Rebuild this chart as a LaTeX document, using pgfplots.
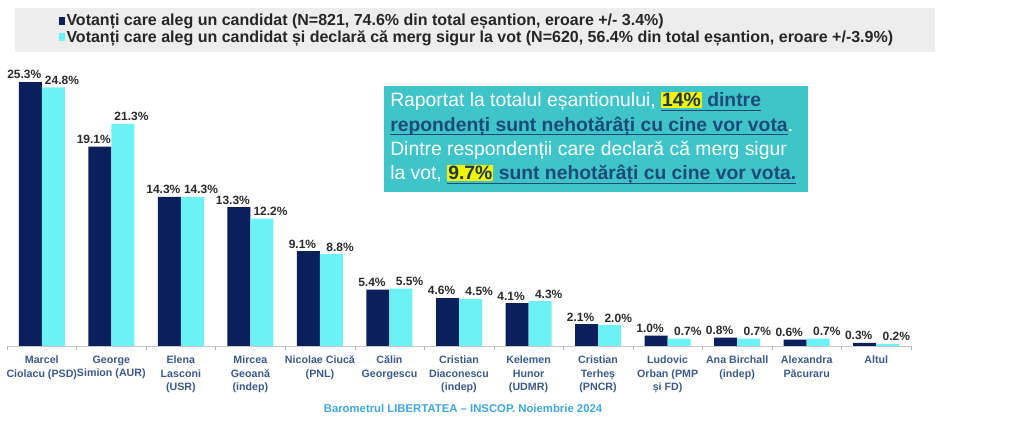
\documentclass[border=0pt]{standalone}
\usepackage{pgfplots}
\pgfplotsset{compat=1.18}
\usepackage{fontspec}
\setmainfont{Liberation Sans}
\definecolor{darkbar}{HTML}{0B1F5C}
\definecolor{lightbar}{HTML}{6CF2F5}
\definecolor{boxteal}{HTML}{3EC4C9}
\definecolor{uline}{HTML}{1F4A78}
\definecolor{hltext}{HTML}{1E3A40}
\definecolor{hlyellow}{HTML}{F2F20A}
\definecolor{ticktext}{HTML}{3A5A8C}
\definecolor{footer}{HTML}{3FA8E0}
\definecolor{legendgray}{HTML}{EDEDED}
\definecolor{valtext}{HTML}{2B2B2B}
\newcommand\ul[1]{\setbox0\hbox{#1}\rlap{\rule[-3pt]{\wd0}{1.1pt}}\box0}
\begin{document}
\begin{tikzpicture}
\useasboundingbox (0,0) rectangle (768pt,324pt);
\fill[legendgray] (11.25pt,285pt) rectangle (701.25pt,318pt);
\begin{axis}[
  at={(5.25pt,64.5pt)}, anchor=south west,
  scale only axis, width=678pt, height=234.75pt,
  xmin=-0.5, xmax=12.5, ymin=0, ymax=30,
  ybar=0pt, bar width=17.25pt,
  axis x line*=bottom, axis y line=none,
  x axis line style={gray!45},
  xtick={0,...,12},
  major x tick style={draw=none},
  minor xtick={-0.5,0.5,...,12.5},
  minor tick length=3pt,
  minor x tick style={gray!60},
  tick align=outside,
  xticklabels={{Marcel\\Ciolacu (PSD)},{George\\Simion (AUR)},{Elena\\Lasconi\\(USR)},{Mircea\\Geoană\\(indep)},{Nicolae Ciucă\\(PNL)},{Călin\\Georgescu},{Cristian\\Diaconescu\\(indep)},{Kelemen\\Hunor\\(UDMR)},{Cristian\\Terheș\\(PNCR)},{Ludovic\\Orban (PMP\\și FD)},{Ana Birchall\\(indep)},{Alexandra\\Păcuraru},{Altul}},
  xticklabel style={align=center, font=\fontsize{8}{10}\selectfont\bfseries, text=ticktext, anchor=north, inner sep=1pt, yshift=-2pt},
  /pgf/number format/assume math mode=true,
  nodes near coords={\pgfmathprintnumber[fixed,fixed zerofill,precision=1]{\pgfplotspointmeta}\%},
  every node near coord/.append style={font=\fontsize{9}{10}\selectfont\bfseries, text=valtext, inner sep=2pt},
  legend style={draw=none, fill=none, at={(axis description cs:0.053,1.074)}, anchor=north west,
    font=\bfseries\fontsize{12}{13}\selectfont, text=black!85, row sep=0pt,
    nodes={inner sep=1pt}},
  legend cell align=left,
  legend image code/.code={\fill[#1,draw=none] (0pt,-3pt) rectangle (4.5pt,3pt);},
]
\addplot[fill=darkbar, draw=none, every node near coord/.append style={xshift=-4.5pt}] coordinates {
(0,25.3) (1,19.1) (2,14.3) (3,13.3) (4,9.1) (5,5.4) (6,4.6) (7,4.1) (8,2.1) (9,1.0) (10,0.8) (11,0.6) (12,0.3)};
\addlegendentry{Votanți care aleg un candidat (N=821, 74.6\% din total eșantion, eroare +/- 3.4\%)}
\addplot[fill=lightbar, draw=none, every node near coord/.append style={xshift=6.5pt}] coordinates {
(0,24.8) (1,21.3) (2,14.3) (3,12.2) (4,8.8) (5,5.5) (6,4.5) (7,4.3) (8,2.0) (9,0.7) (10,0.7) (11,0.7) (12,0.2)};
\addlegendentry{Votanți care aleg un candidat și declară că merg sigur la vot (N=620, 56.4\% din total eșantion, eroare +/-3.9\%)}
\end{axis}
\fill[boxteal] (288pt,180pt) rectangle (606pt,259.5pt);
\begingroup
\setlength{\fboxsep}{0.8pt}
\tikzset{bl/.style={anchor=base west, inner sep=0pt, text=white, font=\fontsize{14.5}{16}\selectfont}}
\node[bl] at (292.5pt,243.75pt) {Raportat la totalul eșantionului, {\color{uline}\ul{\colorbox{hlyellow}{\textbf{\color{hltext}14\%}}\textbf{ dintre}}}};
\node[bl] at (292.5pt,225.5pt) {{\color{uline}\ul{\textbf{repondenți sunt nehotărâți cu cine vor vota}}}.};
\node[bl] at (292.5pt,207.25pt) {Dintre respondenții care declară că merg sigur};
\node[bl] at (292.5pt,189pt) {la vot, {\color{uline}\ul{\colorbox{hlyellow}{\textbf{\color{hltext}9.7\%}}\textbf{ sunt nehotărâți cu cine vor vota.}}}};
\endgroup
\node[font=\bfseries\fontsize{8.5}{10}\selectfont, text=footer] at (347.25pt,18pt) {Barometrul LIBERTATEA – INSCOP. Noiembrie 2024};
\end{tikzpicture}
\end{document}
